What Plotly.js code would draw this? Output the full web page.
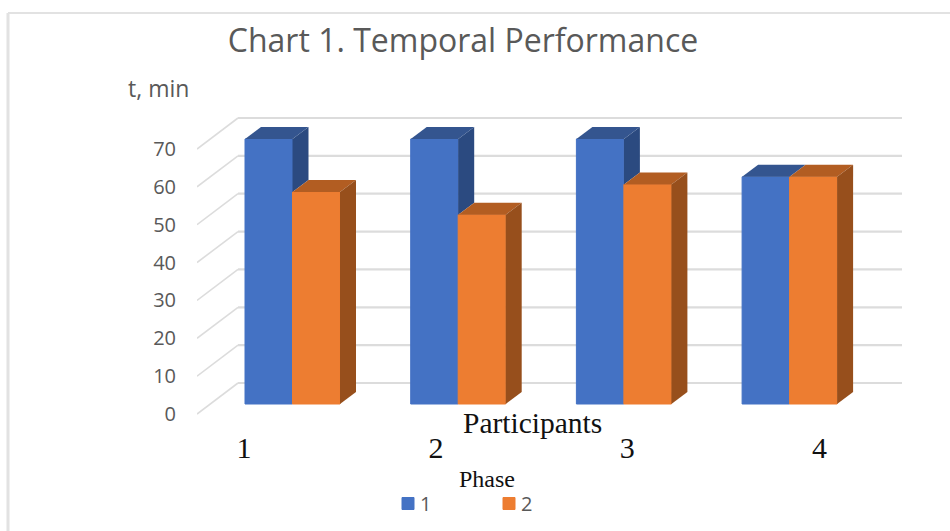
<!DOCTYPE html>
<html>
<head>
<meta charset="utf-8">
<script src="https://cdn.plot.ly/plotly-3.0.1.min.js"></script>
<style>html,body{margin:0;padding:0;background:#fff;overflow:hidden}</style>
</head>
<body>
<div id="chart" style="width:950px;height:531px"></div>
<script>
const participants = [1, 2, 3, 4];
const phaseNames = ['1', '2'];
const phase1 = [70, 70, 70, 60];
const phase2 = [56, 50, 58, 60];
const yTicks = [0, 10, 20, 30, 40, 50, 60, 70];
const xTickLabels = ['1', '2', '3', '4'];
const xTickPlaces = [0.707, 1.866, 3.02, 4.18];

// px-per-unit of the plot: front plane scale
const W = 950, H = 531;
const m = {l: 197, r: 40, t: 100, b: 107, autoexpand: false};
const pxPerX = 165.7, pxPerY = 265 / 70;
const plotW = W - m.l - m.r, plotH = H - m.t - m.b;
const x0 = 1 - (292.5 - m.l) / pxPerX;
const x1 = x0 + plotW / pxPerX;
const yBase = 404;
const y0 = -(m.t + plotH - yBase) / pxPerY;
const y1 = y0 + plotH / pxPerY;

// oblique depth of the bars and of the floor/wall
const dx = 16 / pxPerX, dy = 12 / pxPerY;
const barW = 47.5 / pxPerX;
const frontDrop = 10 / pxPerY;         // floor front edge below bar baseline
const wallRise = 21 / pxPerY;          // wall zero above bar baseline
const wallDx = 41 / pxPerX;
const gridEnd = 1 + (902 - 292.5) / pxPerX;

const C = {
  blue: '#4472C4', blueTop: '#34558F', blueSide: '#2B4A80',
  orange: '#ED7D31', orangeTop: '#B25D22', orangeSide: '#974F1C',
  grid: '#DCDCDC', text: '#595959'
};

function poly(xs, ys, color) {
  return {x: xs.concat(xs[0]), y: ys.concat(ys[0]), mode: 'lines', fill: 'toself',
    fillcolor: color, line: {width: 0, color: color}, hoverinfo: 'skip', showlegend: false, type: 'scatter'};
}

const depthFaces = [];
participants.forEach((p, i) => {
  const a = phase1[i], b = phase2[i];
  // phase 1: side visible only above phase 2's top
  if (a > b) {
    depthFaces.push(poly([p, p + dx, p + dx, p], [a, a + dy, b + dy, b], C.blueSide));
  }
  depthFaces.push(poly([p - barW, p, p + dx, p - barW + dx], [a, a, a + dy, a + dy], C.blueTop));
  depthFaces.push(poly([p, p + barW, p + barW + dx, p + dx], [b, b, b + dy, b + dy], C.orangeTop));
  depthFaces.push(poly([p + barW, p + barW + dx, p + barW + dx, p + barW], [b, b + dy, dy, 0], C.orangeSide));
});

const bars = [
  {type: 'bar', name: phaseNames[0], x: participants, y: phase1, marker: {color: C.blue, line: {color: C.blue, width: 1}}},
  {type: 'bar', name: phaseNames[1], x: participants, y: phase2, marker: {color: C.orange, line: {color: C.orange, width: 1}}}
];

const gridShapes = [];
yTicks.forEach(v => {
  const front = v - frontDrop, back = v + wallRise;
  const sx = x0, bx = x0 + wallDx;
  gridShapes.push({type: 'line', layer: 'below', xref: 'x', yref: 'y', x0: sx, y0: front, x1: bx, y1: back,
    line: {color: C.grid, width: 1.6}});
  gridShapes.push({type: 'line', layer: 'below', xref: 'x', yref: 'y', x0: bx, y0: back, x1: gridEnd, y1: back,
    line: {color: C.grid, width: 2.2}});
});
const px = v => (v - m.l) / plotW, py = v => 1 - (v - m.t) / plotH;
const frame = [
  {x0: px(8), x1: px(950), y0: py(13), y1: py(13), w: 2},
  {x0: px(8), x1: px(8), y0: py(13), y1: py(531), w: 3}
].map(s => {
  const w = s.w; delete s.w;
  return Object.assign(s, {type: 'line', layer: 'below', xref: 'paper', yref: 'paper', line: {color: '#E2E2E2', width: w}});
});

const serif = 'Liberation Serif, Times New Roman, serif';
const sans = 'Open Sans, Segoe UI, sans-serif';

const layout = {
  width: W, height: H,
  margin: m,
  paper_bgcolor: '#fff', plot_bgcolor: 'rgba(0,0,0,0)',
  showlegend: true,
  barmode: 'group',
  bargap: 1 - (2 * barW),
  bargroupgap: 0,
  title: {text: 'Chart 1. Temporal Performance', font: {family: sans, size: 32, color: C.text},
    x: 463 / W, xanchor: 'center', y: 1 - 41 / H, yanchor: 'middle'},
  xaxis: {range: [x0, x1], showgrid: false, zeroline: false, showline: false,
    tickmode: 'array', tickvals: xTickPlaces, ticktext: xTickLabels, ticks: '', ticklabelstandoff: 3,
    tickfont: {family: serif, size: 30, color: '#111'}},
  yaxis: {range: [y0, y1], showgrid: false, zeroline: false, showline: false,
    tickmode: 'array', tickvals: yTicks.map(v => v - frontDrop), ticktext: yTicks.map(String), ticks: '',
    ticklen: 0, ticklabelstandoff: 20, tickfont: {family: sans, size: 20, color: C.text}},
  legend: {orientation: 'h', x: px(388), xanchor: 'left', y: py(484), yanchor: 'top',
    entrywidth: 56, entrywidthmode: 'pixels', itemwidth: 30, traceorder: 'normal',
    font: {family: sans, size: 20, color: C.text}, bgcolor: 'rgba(0,0,0,0)', itemclick: false, itemdoubleclick: false},
  shapes: gridShapes.concat(frame),
  annotations: [
    {xref: 'paper', yref: 'paper', x: px(126), y: py(88), xanchor: 'left', yanchor: 'middle', showarrow: false,
      text: 't, min', font: {family: sans, size: 23, color: C.text}},
    {xref: 'paper', yref: 'paper', x: px(532.5), y: py(423), xanchor: 'center', yanchor: 'middle', showarrow: false,
      text: 'Participants', font: {family: serif, size: 29.5, color: '#111'}},
    {xref: 'paper', yref: 'paper', x: px(487), y: py(479), xanchor: 'center', yanchor: 'middle', showarrow: false,
      text: 'Phase', font: {family: serif, size: 24, color: '#111'}}
  ]
};

Plotly.newPlot('chart', bars.concat(depthFaces), layout, {displayModeBar: false, responsive: false}).then(() => {
  document.querySelectorAll('#chart .legendtext').forEach(t => t.setAttribute('x', 32));
});
</script>
</body>
</html>
